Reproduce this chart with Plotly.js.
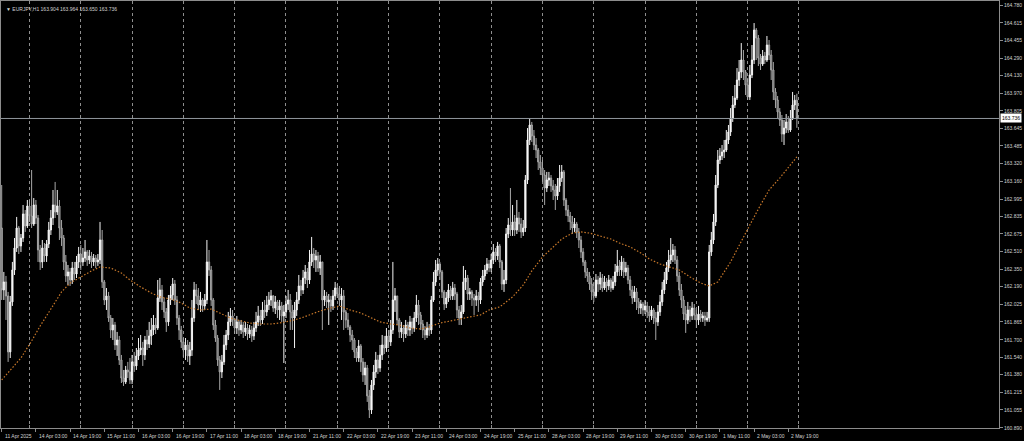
<!DOCTYPE html>
<html><head><meta charset="utf-8">
<script src="https://cdn.plot.ly/plotly-3.0.1.min.js"></script>
<style>html,body{margin:0;padding:0;background:#000;overflow:hidden}#c{width:1024px;height:441px}</style>
</head><body><div id="c"></div><script>
const symbol = 'EURJPY,H1';
const open = [162.728,
162.158,162.232,162.103,161.588,162.048,162.342,162.544,162.728,162.563,162.636,
162.857,162.747,162.931,162.839,162.765,162.940,162.820,162.526,162.416,162.544,
162.471,162.581,162.710,162.820,162.940,162.876,162.931,162.728,162.636,162.416,
162.287,162.324,162.250,162.360,162.305,162.416,162.489,162.416,162.452,162.508,
162.434,162.471,162.416,162.452,162.416,162.434,162.618,162.232,162.066,162.103,
161.900,161.790,161.836,161.652,161.698,161.514,161.348,161.312,161.422,161.404,
161.330,161.496,161.459,161.551,161.606,161.624,161.560,161.698,161.661,161.735,
161.790,161.836,161.808,162.084,162.158,162.048,161.956,161.864,162.066,162.112,
162.213,162.066,161.900,161.790,161.680,161.606,161.652,161.551,161.606,161.900,
162.158,162.103,162.020,162.066,162.011,162.066,162.416,162.342,162.066,161.836,
161.716,161.514,161.404,161.496,161.652,161.744,161.864,161.919,161.882,161.808,
161.864,161.790,161.836,161.772,161.808,161.753,161.790,161.735,161.808,161.864,
161.919,161.882,161.974,161.956,162.020,162.066,162.103,161.992,162.048,161.974,
162.011,161.919,161.956,162.029,162.066,161.956,161.900,161.974,162.066,162.195,
162.158,162.268,162.324,162.250,162.416,162.489,162.434,162.471,162.360,162.416,
162.066,162.103,162.048,162.066,162.011,162.103,162.176,162.121,162.066,162.103,
161.956,161.882,161.818,161.744,161.698,161.588,161.532,161.643,161.496,161.376,
161.440,161.183,161.054,161.284,161.404,161.514,161.440,161.560,161.652,161.624,
161.735,161.680,161.790,162.066,162.103,161.882,161.772,161.808,161.753,161.836,
161.790,161.864,161.808,161.900,162.020,161.928,161.845,161.790,161.744,161.808,
161.790,162.066,162.232,162.342,162.397,162.324,162.140,162.029,162.084,162.158,
162.103,162.176,162.121,161.974,161.900,161.956,162.232,162.268,162.121,162.140,
162.084,162.066,162.103,162.066,162.232,162.287,162.342,162.397,162.360,162.434,
162.508,162.471,162.563,162.416,162.213,162.250,162.673,162.756,162.710,162.784,
162.710,162.820,162.765,162.692,162.728,163.170,163.538,163.676,163.575,163.492,
163.446,163.336,163.280,163.216,163.096,163.170,163.188,163.115,163.078,163.023,
163.115,163.188,163.244,162.986,162.894,162.839,162.784,162.728,162.765,162.692,
162.618,162.508,162.416,162.324,162.287,162.213,162.140,162.103,162.250,162.213,
162.268,162.176,162.232,162.195,162.250,162.176,162.232,162.324,162.379,162.342,
162.416,162.324,162.360,162.250,162.158,162.084,162.140,162.048,161.992,162.029,
161.974,162.011,161.956,161.919,161.974,161.900,161.864,161.956,162.048,162.158,
162.250,162.360,162.434,162.480,162.526,162.434,162.287,162.158,162.066,161.937,
161.882,161.974,161.919,161.992,161.928,161.882,161.937,161.900,161.919,161.882,
161.900,162.508,162.618,162.784,163.124,163.354,163.391,163.428,163.446,163.538,
163.612,163.740,163.860,163.924,164.090,164.164,164.274,164.164,164.044,163.934,
164.136,164.274,164.550,164.476,164.292,164.237,164.311,164.274,164.412,164.320,
164.182,163.980,163.906,163.796,163.722,163.593,163.648,163.704,163.630,163.740,
163.860,163.904];
const high = [
163.124,162.324,162.287,162.140,162.103,162.416,162.636,162.830,162.747,162.673,
162.940,162.894,162.986,162.986,163.262,163.004,162.986,162.848,162.572,162.618,
162.590,162.618,162.784,162.894,163.078,163.152,163.078,162.986,162.802,162.664,
162.480,162.388,162.360,162.416,162.416,162.471,162.554,162.572,162.544,162.618,
162.526,162.526,162.508,162.489,162.480,162.489,162.784,162.710,162.250,162.176,
162.140,161.928,161.900,161.864,161.772,161.735,161.560,161.422,161.459,161.496,
161.532,161.560,161.588,161.624,161.716,161.744,161.680,161.735,161.790,161.864,
161.900,161.928,161.900,162.250,162.268,162.204,162.084,161.992,162.112,162.195,
162.268,162.250,162.103,161.928,161.827,161.716,161.716,161.698,161.680,162.066,
162.232,162.213,162.176,162.140,162.084,162.121,162.618,162.526,162.379,162.084,
161.882,161.744,161.551,161.560,161.744,161.790,161.956,161.992,161.974,161.900,
161.919,161.882,161.882,161.864,161.864,161.845,161.836,161.827,161.864,161.956,
162.011,161.974,162.048,162.066,162.103,162.140,162.158,162.112,162.103,162.066,
162.066,162.048,162.020,162.103,162.158,162.121,162.020,162.048,162.140,162.296,
162.250,162.342,162.388,162.360,162.526,162.646,162.544,162.526,162.508,162.480,
162.416,162.158,162.140,162.121,162.103,162.158,162.232,162.213,162.195,162.176,
162.158,161.974,161.946,161.836,161.790,161.716,161.624,161.698,161.661,161.532,
161.496,161.468,161.238,161.330,161.468,161.588,161.560,161.652,161.744,161.735,
161.808,161.790,161.882,162.416,162.176,162.103,161.900,161.864,161.836,161.882,
161.864,161.919,161.900,161.956,162.112,162.066,161.956,161.882,161.827,161.864,
161.845,162.103,162.324,162.434,162.452,162.416,162.342,162.158,162.140,162.213,
162.195,162.232,162.213,162.140,162.011,162.020,162.379,162.342,162.296,162.176,
162.158,162.121,162.158,162.140,162.268,162.342,162.388,162.452,162.434,162.489,
162.581,162.544,162.600,162.581,162.434,162.342,162.728,162.820,163.096,162.940,
162.848,162.986,162.876,162.820,162.802,163.216,163.648,163.740,163.704,163.630,
163.556,163.464,163.400,163.354,163.262,163.244,163.244,163.216,163.170,163.133,
163.188,163.308,163.308,163.262,163.004,162.940,162.876,162.839,162.820,162.784,
162.728,162.655,162.544,162.434,162.360,162.324,162.268,162.232,162.305,162.287,
162.324,162.305,162.287,162.268,162.296,162.268,162.287,162.397,162.526,162.434,
162.471,162.452,162.416,162.388,162.287,162.195,162.195,162.176,162.084,162.066,
162.048,162.066,162.048,162.011,162.011,161.992,161.956,162.020,162.112,162.232,
162.324,162.416,162.526,162.636,162.581,162.563,162.471,162.324,162.213,162.103,
162.011,162.048,162.011,162.048,162.029,161.974,162.011,161.974,161.956,161.956,
161.956,162.572,162.692,162.857,163.216,163.446,163.464,163.492,163.538,163.630,
163.676,163.832,163.943,164.044,164.200,164.274,164.430,164.366,164.182,164.108,
164.228,164.412,164.614,164.568,164.504,164.329,164.366,164.348,164.495,164.458,
164.366,164.256,164.016,163.943,163.832,163.768,163.722,163.777,163.759,163.814,
163.980,163.952,163.964];
const low = [
162.066,162.066,161.882,161.496,161.532,162.011,162.296,162.508,162.489,162.508,
162.600,162.692,162.728,162.784,162.728,162.747,162.765,162.416,162.342,162.360,
162.416,162.416,162.544,162.664,162.756,162.820,162.848,162.618,162.563,162.342,
162.232,162.204,162.195,162.213,162.250,162.268,162.360,162.342,162.379,162.416,
162.379,162.397,162.360,162.379,162.360,162.379,162.397,162.176,162.020,161.974,
161.864,161.716,161.698,161.606,161.551,161.468,161.302,161.275,161.293,161.348,
161.293,161.293,161.404,161.422,161.514,161.560,161.459,161.514,161.606,161.624,
161.652,161.744,161.753,161.790,162.048,161.974,161.900,161.772,161.827,162.020,
162.066,162.020,161.836,161.698,161.624,161.542,161.514,161.496,161.468,161.551,
161.864,162.029,161.974,161.956,161.956,161.974,162.029,162.287,162.011,161.790,
161.680,161.459,161.238,161.348,161.468,161.606,161.698,161.827,161.827,161.753,
161.753,161.735,161.753,161.716,161.735,161.698,161.716,161.680,161.698,161.772,
161.827,161.827,161.845,161.900,161.919,161.974,162.011,161.956,161.937,161.900,
161.882,161.864,161.486,161.900,161.974,161.790,161.790,161.624,161.919,162.029,
162.103,162.121,162.213,162.176,162.213,162.379,162.360,162.324,162.324,162.296,
161.790,162.011,161.992,161.836,161.956,161.974,162.066,162.084,162.011,161.882,
161.790,161.808,161.790,161.680,161.606,161.532,161.496,161.496,161.404,161.312,
161.284,161.128,160.980,161.017,161.238,161.348,161.385,161.404,161.514,161.569,
161.588,161.624,161.643,161.753,161.956,161.836,161.716,161.716,161.680,161.716,
161.735,161.735,161.753,161.772,161.864,161.836,161.790,161.716,161.698,161.716,
161.735,161.753,162.048,162.195,162.287,162.250,162.084,161.974,161.992,162.048,
162.066,162.066,162.066,161.900,161.836,161.836,161.937,162.158,162.066,162.066,
162.011,161.928,162.011,161.956,162.029,162.195,162.250,162.305,162.324,162.324,
162.397,162.416,162.434,162.360,162.158,162.140,162.213,162.636,162.655,162.655,
162.655,162.673,162.692,162.636,162.655,162.692,163.133,163.492,163.520,163.446,
163.372,163.262,163.216,163.152,162.940,163.060,163.115,163.060,162.986,162.894,
162.986,163.060,163.152,162.931,162.839,162.784,162.710,162.673,162.692,162.636,
162.544,162.452,162.379,162.268,162.232,162.158,162.066,162.048,162.084,162.140,
162.158,162.140,162.158,162.140,162.158,162.140,162.158,162.195,162.287,162.287,
162.287,162.268,162.287,162.213,162.103,162.029,162.048,161.974,161.937,161.937,
161.919,161.937,161.900,161.864,161.882,161.845,161.698,161.827,161.919,162.011,
162.121,162.213,162.324,162.397,162.416,162.397,162.232,162.103,161.992,161.882,
161.763,161.845,161.864,161.882,161.882,161.808,161.836,161.864,161.864,161.827,
161.864,161.864,162.471,162.581,162.747,163.096,163.317,163.354,163.372,163.428,
163.501,163.575,163.704,163.832,163.906,164.035,164.108,164.090,163.952,163.906,
163.906,164.108,164.237,164.274,164.219,164.182,164.219,164.237,164.256,164.274,
164.090,163.906,163.832,163.740,163.667,163.520,163.492,163.603,163.603,163.612,
163.722,163.814,163.650];
const close = [
162.158,162.232,162.103,161.588,162.048,162.342,162.544,162.728,162.563,162.636,
162.857,162.747,162.931,162.839,162.765,162.940,162.820,162.526,162.416,162.544,
162.471,162.581,162.710,162.820,162.940,162.876,162.931,162.728,162.636,162.416,
162.287,162.324,162.250,162.360,162.305,162.416,162.489,162.416,162.452,162.508,
162.434,162.471,162.416,162.452,162.416,162.434,162.618,162.232,162.066,162.103,
161.900,161.790,161.836,161.652,161.698,161.514,161.348,161.312,161.422,161.404,
161.330,161.496,161.459,161.551,161.606,161.624,161.560,161.698,161.661,161.735,
161.790,161.836,161.808,162.084,162.158,162.048,161.956,161.864,162.066,162.112,
162.213,162.066,161.900,161.790,161.680,161.606,161.652,161.551,161.606,161.900,
162.158,162.103,162.020,162.066,162.011,162.066,162.416,162.342,162.066,161.836,
161.716,161.514,161.404,161.496,161.652,161.744,161.864,161.919,161.882,161.808,
161.864,161.790,161.836,161.772,161.808,161.753,161.790,161.735,161.808,161.864,
161.919,161.882,161.974,161.956,162.020,162.066,162.103,161.992,162.048,161.974,
162.011,161.919,161.956,162.029,162.066,161.956,161.900,161.974,162.066,162.195,
162.158,162.268,162.324,162.250,162.416,162.489,162.434,162.471,162.360,162.416,
162.066,162.103,162.048,162.066,162.011,162.103,162.176,162.121,162.066,162.103,
161.956,161.882,161.818,161.744,161.698,161.588,161.532,161.643,161.496,161.376,
161.440,161.183,161.054,161.284,161.404,161.514,161.440,161.560,161.652,161.624,
161.735,161.680,161.790,162.066,162.103,161.882,161.772,161.808,161.753,161.836,
161.790,161.864,161.808,161.900,162.020,161.928,161.845,161.790,161.744,161.808,
161.790,162.066,162.232,162.342,162.397,162.324,162.140,162.029,162.084,162.158,
162.103,162.176,162.121,161.974,161.900,161.956,162.232,162.268,162.121,162.140,
162.084,162.066,162.103,162.066,162.232,162.287,162.342,162.397,162.360,162.434,
162.508,162.471,162.563,162.416,162.213,162.250,162.673,162.756,162.710,162.784,
162.710,162.820,162.765,162.692,162.728,163.170,163.538,163.676,163.575,163.492,
163.446,163.336,163.280,163.216,163.096,163.170,163.188,163.115,163.078,163.023,
163.115,163.188,163.244,162.986,162.894,162.839,162.784,162.728,162.765,162.692,
162.618,162.508,162.416,162.324,162.287,162.213,162.140,162.103,162.250,162.213,
162.268,162.176,162.232,162.195,162.250,162.176,162.232,162.324,162.379,162.342,
162.416,162.324,162.360,162.250,162.158,162.084,162.140,162.048,161.992,162.029,
161.974,162.011,161.956,161.919,161.974,161.900,161.864,161.956,162.048,162.158,
162.250,162.360,162.434,162.480,162.526,162.434,162.287,162.158,162.066,161.937,
161.882,161.974,161.919,161.992,161.928,161.882,161.937,161.900,161.919,161.882,
161.900,162.508,162.618,162.784,163.124,163.354,163.391,163.428,163.446,163.538,
163.612,163.740,163.860,163.924,164.090,164.164,164.274,164.164,164.044,163.934,
164.136,164.274,164.550,164.476,164.292,164.237,164.311,164.274,164.412,164.320,
164.182,163.980,163.906,163.796,163.722,163.593,163.648,163.704,163.630,163.740,
163.860,163.904,163.736];
const maIdx = [0,9,14,18,23,28,32,37,42,46,51,56,60,65,70,74,79,84,88,93,98,102,107,112,116,121,126,130,135,140,144,149,154,158,163,168,172,177,182,186,191,196,200,205,210,214,219,224,228,233,239,244,248,253,258,262,267,271,275,280,285,289,294,299,303,308,313,317,322,327,331,335,341,345,350,355,359,364,369,372];
const maVal = [161.330,161.532,161.689,161.827,161.983,162.140,162.222,162.278,162.333,162.370,162.360,162.314,162.250,162.186,162.130,162.094,162.075,162.038,161.992,161.974,161.983,161.946,161.900,161.873,161.854,161.845,161.845,161.854,161.873,161.900,161.928,161.965,161.992,162.011,161.974,161.946,161.910,161.864,161.845,161.836,161.808,161.799,161.818,161.854,161.873,161.891,161.910,161.928,161.974,162.002,162.094,162.204,162.333,162.462,162.554,162.627,162.682,162.692,162.682,162.655,162.627,162.590,162.554,162.498,162.443,162.397,162.370,162.342,162.278,162.222,162.195,162.232,162.416,162.572,162.756,162.940,163.078,163.188,163.308,163.382];
const xTickIdx = [0,16,32,48,64,80,96,112,128,144,160,176,192,208,224,240,256,272,288,304,320,336,352,368];
const xTickText = ['11 Apr 2025','14 Apr 03:00','14 Apr 19:00','15 Apr 11:00','16 Apr 03:00','16 Apr 19:00','17 Apr 11:00','18 Apr 03:00','18 Apr 19:00','21 Apr 11:00','22 Apr 03:00','22 Apr 19:00','23 Apr 11:00','24 Apr 03:00','24 Apr 19:00','25 Apr 11:00','28 Apr 03:00','28 Apr 19:00','29 Apr 11:00','30 Apr 03:00','30 Apr 19:00','1 May 11:00','2 May 03:00','2 May 19:00'];
const daySepIdx = [13,37,61,85,109,133,157,181,205,229,253,277,301,325,349,373];
const yTickText = ['164.780','164.615','164.455','164.290','164.130','163.970','163.805','163.645','163.485','163.320','163.160','162.995','162.835','162.675','162.510','162.350','162.190','162.025','161.865','161.700','161.540','161.380','161.215','161.055','160.890'];

const barIdx = close.map((_, i) => i);
const n = close.length - 1;
const FONT = 'Liberation Sans, Arial, sans-serif';
const TXT = '#d2d2d2';
const FRAME = '#8c8c8c';

const traces = [
  {type:'candlestick', x:barIdx, open:open, high:high, low:low, close:close,
   increasing:{line:{color:'#f4f4f4', width:1}, fillcolor:'#ffffff'},
   decreasing:{line:{color:'#a8a8a8', width:1}, fillcolor:'#505050'},
   whiskerwidth:0, hoverinfo:'none', showlegend:false},
  {type:'scatter', mode:'lines', x:maIdx, y:maVal,
   line:{color:'#c8782a', width:1.2, dash:'1.5px,1.8px'}, hoverinfo:'none', showlegend:false}
];

const ann = xTickIdx.map((v, k) => ({x:v, xref:'x', y:0, yref:'paper', yanchor:'top', yshift:-3,
  xanchor:'left', xshift:1, text:xTickText[k], showarrow:false, font:{family:FONT, size:5, color:TXT}}));
ann.push({x:0, xref:'paper', y:1, yref:'paper', xanchor:'left', yanchor:'top', xshift:3, yshift:-3,
  showarrow:false, font:{family:FONT, size:5, color:TXT},
  text:'▼ ' + symbol + ' ' + open[n].toFixed(3) + ' ' + high[n].toFixed(3) + ' ' + low[n].toFixed(3) + ' ' + close[n].toFixed(3)});
ann.push({x:1, xref:'paper', y:close[n], yref:'y', xanchor:'left', yanchor:'middle', xshift:1,
  showarrow:false, bgcolor:'#ffffff', borderpad:1, font:{family:FONT, size:5, color:'#000000'},
  text:close[n].toFixed(3)});

const layout = {
  width:1024, height:441,
  margin:{l:1, r:25, t:1, b:13, pad:0},
  paper_bgcolor:'#000000', plot_bgcolor:'#000000',
  showlegend:false, boxgap:0.2,
  font:{family:FONT, size:5, color:TXT},
  xaxis:{type:'linear', range:[-0.327, 466.57], rangeslider:{visible:false},
    tickmode:'array', tickvals:xTickIdx, showticklabels:false,
    ticks:'outside', ticklen:3, tickcolor:FRAME, tickwidth:1,
    showgrid:false, zeroline:false, showline:true, mirror:true, linecolor:FRAME, linewidth:1,
    minor:{tickmode:'array', tickvals:daySepIdx, showgrid:true, griddash:'dot', gridcolor:'#8e8e8e', gridwidth:1,
      ticks:'inside', ticklen:3, tickcolor:FRAME}},
  yaxis:{side:'right', range:[160.888, 164.817], tickmode:'array',
    tickvals:yTickText.map(Number), ticktext:yTickText,
    ticks:'outside', ticklen:3, tickcolor:FRAME, tickwidth:1,
    tickfont:{family:FONT, size:5, color:TXT},
    showgrid:false, zeroline:false, showline:true, mirror:true, linecolor:FRAME, linewidth:1},
  shapes:[{type:'line', xref:'paper', x0:0, x1:1, yref:'y', y0:close[n], y1:close[n],
    line:{color:'#8f969c', width:1}}],
  annotations:ann
};
Plotly.newPlot('c', traces, layout, {staticPlot:true, displayModeBar:false});
</script></body></html>
